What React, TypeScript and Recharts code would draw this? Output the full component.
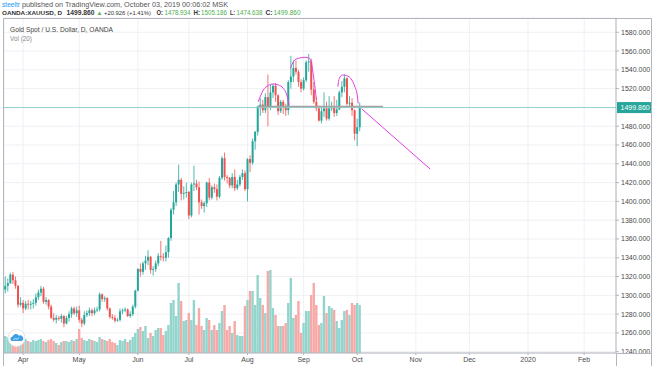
import React from 'react';
import { ComposedChart, Bar, Line, XAxis, YAxis, CartesianGrid, ReferenceLine, Cell } from 'recharts';

// Trading days from 2019-03-21 (index 0) to 2019-10-02 (index 139); axis runs to index 239
const MONTH_TICKS = [7, 29, 52, 72, 95, 117, 138, 161, 182, 205, 227];
const MONTH_LABELS = ['Apr', 'May', 'Jun', 'Jul', 'Aug', 'Sep', 'Oct', 'Nov', 'Dec', '2020', 'Feb'];
// 1500 is hidden under the last-price tag in the reference
const PRICE_TICKS = [1240, 1260, 1280, 1300, 1320, 1340, 1360, 1380, 1400, 1420, 1440, 1460, 1480, 1520, 1540, 1560, 1580];

const OPEN = [
  1306, 1310, 1313, 1322, 1316, 1310, 1290, 1292, 1286, 1291, 1290, 1291, 1292, 1298, 1303, 1307, 1293, 1295, 1288, 1276,
  1274, 1276, 1275, 1278, 1270, 1276, 1280, 1286, 1281, 1284, 1274, 1270, 1279, 1281, 1284, 1281, 1284, 1285, 1301, 1296,
  1297, 1286, 1277, 1276, 1273, 1274, 1283, 1284, 1285, 1278, 1280, 1288, 1305, 1328, 1325, 1334, 1337, 1341, 1327, 1328,
  1334, 1342, 1341, 1340, 1346, 1361, 1391, 1399, 1418, 1423, 1408, 1409, 1410, 1385, 1418, 1419, 1415, 1399, 1395, 1398,
  1420, 1404, 1415, 1413, 1405, 1425, 1446, 1426, 1425, 1417, 1426, 1414, 1418, 1426, 1430, 1413, 1445, 1441, 1464, 1474,
  1501, 1503, 1497, 1511, 1501, 1516, 1523, 1513, 1496, 1506, 1501, 1497, 1527, 1533, 1542, 1538, 1527, 1520, 1529, 1548,
  1549, 1519, 1506, 1499, 1486, 1496, 1499, 1488, 1499, 1501, 1494, 1498, 1516, 1522, 1531, 1504, 1505, 1497, 1472, 1478.934,
];
const HIGH = [
  1320, 1318, 1324, 1325, 1320, 1311, 1298, 1295, 1294, 1295, 1294, 1296, 1302, 1306, 1310, 1309, 1298, 1296, 1290, 1281,
  1279, 1278, 1280, 1279, 1278, 1283, 1288, 1288, 1288, 1289, 1276, 1283, 1284, 1287, 1286, 1287, 1288, 1303, 1302, 1299,
  1298, 1287, 1280, 1279, 1276, 1286, 1286, 1287, 1286, 1283, 1290, 1306, 1329, 1334, 1336, 1342, 1348, 1342, 1331, 1337,
  1345, 1358, 1345, 1353, 1362, 1393, 1411, 1420, 1439, 1425, 1416, 1420, 1411, 1420, 1438, 1423, 1421, 1402, 1400, 1421,
  1425, 1417, 1419, 1418, 1427, 1448, 1452, 1428, 1426, 1430, 1434, 1423, 1428, 1434, 1433, 1446, 1449, 1467, 1475, 1502,
  1510, 1508, 1515, 1535, 1524, 1525, 1526, 1514, 1508, 1508, 1504, 1529, 1555, 1550, 1550, 1540, 1530, 1532, 1550, 1557,
  1552, 1527, 1511, 1502, 1500, 1516, 1506, 1512, 1506, 1512, 1508, 1518, 1528, 1535, 1532, 1512, 1510, 1498, 1488, 1505.186,
];
const LOW = [
  1302, 1304, 1312, 1312, 1307, 1287, 1288, 1281, 1284, 1285, 1285, 1286, 1289, 1295, 1299, 1291, 1290, 1285, 1275, 1272,
  1270, 1273, 1271, 1266, 1269, 1272, 1276, 1279, 1277, 1271, 1266, 1268, 1277, 1278, 1278, 1279, 1282, 1283, 1293, 1293,
  1284, 1275, 1274, 1271, 1272, 1272, 1280, 1282, 1277, 1276, 1278, 1286, 1304, 1320, 1322, 1327, 1332, 1323, 1321, 1325,
  1331, 1337, 1336, 1336, 1340, 1358, 1386, 1395, 1410, 1401, 1402, 1404, 1381, 1383, 1411, 1412, 1386, 1392, 1388, 1394,
  1401, 1402, 1409, 1401, 1403, 1423, 1422, 1419, 1414, 1414, 1411, 1412, 1416, 1423, 1411, 1400, 1431, 1439, 1455, 1470,
  1491, 1494, 1494, 1480, 1497, 1510, 1506, 1492, 1494, 1493, 1491, 1492, 1520, 1527, 1535, 1522, 1516, 1518, 1527, 1538,
  1513, 1504, 1496, 1485, 1483, 1490, 1486, 1486, 1496, 1490, 1491, 1497, 1511, 1516, 1502, 1500, 1491, 1465, 1459, 1474.638,
];
const CLOSE = [
  1310, 1313, 1322, 1316, 1310, 1290, 1292, 1286, 1291, 1290, 1291, 1292, 1298, 1303, 1307, 1293, 1295, 1288, 1276, 1274,
  1276, 1275, 1278, 1270, 1276, 1280, 1286, 1281, 1284, 1274, 1270, 1279, 1281, 1284, 1281, 1284, 1285, 1301, 1296, 1297,
  1286, 1277, 1276, 1273, 1274, 1283, 1284, 1285, 1278, 1280, 1288, 1305, 1328, 1325, 1334, 1337, 1341, 1327, 1328, 1334,
  1342, 1341, 1340, 1346, 1361, 1391, 1399, 1418, 1423, 1408, 1409, 1410, 1385, 1418, 1419, 1415, 1399, 1395, 1398, 1420,
  1404, 1415, 1413, 1405, 1425, 1446, 1426, 1425, 1417, 1426, 1414, 1418, 1426, 1430, 1413, 1445, 1441, 1464, 1474, 1501,
  1503, 1497, 1511, 1501, 1516, 1523, 1513, 1496, 1506, 1501, 1497, 1527, 1533, 1542, 1538, 1527, 1520, 1529, 1548, 1549,
  1519, 1506, 1499, 1486, 1496, 1499, 1488, 1499, 1501, 1494, 1498, 1516, 1522, 1531, 1504, 1505, 1497, 1472, 1479, 1499.86,
];
const VOLUME = [
  17, 16, 14, 13, 15, 18, 13, 12, 14, 12, 11, 13, 12, 13, 14, 12, 11, 13, 14, 12,
  10, 8, 11, 12, 12, 11, 13, 12, 14, 24, 15, 13, 12, 14, 13, 12, 11, 16, 14, 13,
  12, 14, 11, 10, 8, 13, 12, 14, 11, 13, 16, 20, 24, 26, 22, 27, 15, 20, 17, 23,
  25, 25, 18, 22, 28, 50, 53, 37, 70, 52, 32, 33, 40, 33, 53, 28, 45, 27, 23, 35,
  33, 23, 28, 23, 30, 42, 48, 23, 27, 20, 32, 18, 17, 17, 47, 53, 62, 62, 48, 78,
  55, 48, 40, 82, 83, 45, 38, 27, 27, 27, 30, 50, 75, 35, 38, 52, 20, 30, 42, 42,
  58, 70, 48, 28, 30, 57, 40, 47, 45, 43, 32, 25, 33, 42, 43, 38, 50, 48, 50, 48,
];

// Drawing annotations (index, price)
const LEFT_SHOULDER = [
  { i: 99.2, p: 1506 }, { i: 101.2, p: 1518.6 }, { i: 103.1, p: 1523.2 }, { i: 105.1, p: 1525 },
  { i: 107.1, p: 1523.9 }, { i: 109.0, p: 1520.4 }, { i: 110.4, p: 1513.3 }, { i: 111.3, p: 1502.6 },
];
const HEAD = [
  { i: 111.9, p: 1541.7 }, { i: 113.0, p: 1548.7 }, { i: 114.9, p: 1552.3 }, { i: 117.5, p: 1553.4 },
  { i: 119.2, p: 1552.3 }, { i: 120.2, p: 1545.2 }, { i: 120.8, p: 1534.5 }, { i: 121.5, p: 1520.4 }, { i: 122.0, p: 1507.9 },
];
const RIGHT_SHOULDER = [
  { i: 130.4, p: 1522.1 }, { i: 131.0, p: 1531 }, { i: 132.3, p: 1534.5 }, { i: 133.9, p: 1533.8 },
  { i: 135.9, p: 1529.2 }, { i: 137.1, p: 1522.1 }, { i: 138.0, p: 1513.3 }, { i: 138.4, p: 1504.4 },
];
const NECKLINE = [{ i: 99.1, p: 1501 }, { i: 148.1, p: 1501 }];
const PROJECTION = [{ i: 139.8, p: 1498.4 }, { i: 166.6, p: 1434.5 }];
const LAST_PRICE = 1499.86;

const W = 654;
const H = 366;
const UP = '#26a69a';
const DOWN = '#ef5350';
const VUP = '#93d4cc';
const VDOWN = '#f7a9a7';
const MAGENTA = '#e23ee6';

const rows = CLOSE.map((c, i) => ({
  i,
  open: OPEN[i],
  high: HIGH[i],
  low: LOW[i],
  close: c,
  range: [LOW[i], HIGH[i]],
  vol: VOLUME[i],
}));

function Candle(props: any) {
  let { x, y, width, height } = props;
  const { payload } = props;
  if (height < 0) {
    y = y + height;
    height = -height;
  }
  const { open, high, low, close } = payload;
  const k = high - low > 0 ? height / (high - low) : 0;
  const yo = y + (high - open) * k;
  const yc = y + (high - close) * k;
  const col = close >= open ? UP : DOWN;
  const cx = x + width / 2;
  const top = Math.min(yo, yc);
  const bh = Math.max(Math.abs(yo - yc), 0.8);
  return (
    <g>
      <line x1={cx} x2={cx} y1={y} y2={y + height} stroke={col} strokeWidth={0.8} />
      <rect x={cx - 1} y={top} width={2} height={bh} fill={col} />
    </g>
  );
}

function PriceTag(props: any) {
  const vb = props.viewBox || {};
  const x = (vb.x || 0) + (vb.width || 0) + 1;
  const y = vb.y || 0;
  return (
    <g>
      <rect x={x} y={y - 5.5} width={34} height={11} fill="#26a69a" />
      <text x={x + 3.5} y={y + 2.5} fontSize={7} fill="#ffffff">
        {LAST_PRICE.toFixed(3)}
      </text>
    </g>
  );
}

export default function App() {
  const green = '#4caf50';
  const dark = '#333';
  const fit = 'spacingAndGlyphs';
  return (
    <div
      style={{
        position: 'absolute',
        left: 0,
        top: 0,
        width: W,
        height: H,
        background: '#fff',
        fontFamily: '"Liberation Sans", Arial, sans-serif',
        overflow: 'hidden',
      }}
    >
      <ComposedChart width={W} height={H} data={rows} margin={{ top: 18, right: 0, bottom: 0, left: 4 }}>
        <CartesianGrid xAxisId="p" yAxisId="p" stroke="#eef0f4" />
        <XAxis
          xAxisId="p"
          type="number"
          dataKey="i"
          domain={[-0.5, 239.5]}
          allowDataOverflow
          ticks={MONTH_TICKS}
          interval={0}
          tickFormatter={(v: number) => MONTH_LABELS[MONTH_TICKS.indexOf(v)]}
          height={13}
          tickSize={2}
          tick={{ fontSize: 7, fill: '#4a4a4a' }}
          tickLine={{ stroke: '#b2b5be' }}
          axisLine={{ stroke: '#b2b5be' }}
        />
        <XAxis xAxisId="v" type="number" dataKey="i" domain={[-0.5, 239.5]} allowDataOverflow hide />
        <YAxis
          yAxisId="p"
          orientation="right"
          domain={[1238.6, 1595.2]}
          allowDataOverflow
          ticks={PRICE_TICKS}
          interval={0}
          width={38}
          tickSize={3}
          tickFormatter={(v: number) => v.toFixed(3)}
          tick={{ fontSize: 7, fill: '#4a4a4a' }}
          tickLine={{ stroke: '#b2b5be' }}
          axisLine={{ stroke: '#b2b5be' }}
        />
        <YAxis yAxisId="v" hide domain={[0, 335]} allowDataOverflow />
        <Bar xAxisId="v" yAxisId="v" dataKey="vol" barSize={2.4} isAnimationActive={false}>
          {rows.map((r) => (
            <Cell key={r.i} fill={r.close >= r.open ? VUP : VDOWN} />
          ))}
        </Bar>
        <ReferenceLine xAxisId="p" yAxisId="p" y={LAST_PRICE} stroke="#8fd0c8" strokeWidth={1} label={<PriceTag />} />
        <Line xAxisId="p" yAxisId="p" data={NECKLINE} dataKey="p" stroke="#a3a3a3" strokeWidth={1.6} dot={false} isAnimationActive={false} />
        <Bar xAxisId="p" yAxisId="p" dataKey="range" barSize={2} shape={<Candle />} isAnimationActive={false} />
        <Line xAxisId="p" yAxisId="p" data={LEFT_SHOULDER} dataKey="p" type="monotone" stroke={MAGENTA} strokeWidth={1} dot={false} isAnimationActive={false} />
        <Line xAxisId="p" yAxisId="p" data={HEAD} dataKey="p" type="monotone" stroke={MAGENTA} strokeWidth={1} dot={false} isAnimationActive={false} />
        <Line xAxisId="p" yAxisId="p" data={RIGHT_SHOULDER} dataKey="p" type="monotone" stroke={MAGENTA} strokeWidth={1} dot={false} isAnimationActive={false} />
        <Line xAxisId="p" yAxisId="p" data={PROJECTION} dataKey="p" stroke={MAGENTA} strokeWidth={1} dot={false} isAnimationActive={false} />
      </ComposedChart>
      <svg width={W} height={H} style={{ position: 'absolute', left: 0, top: 0, pointerEvents: 'none' }}>
        <line x1={3.5} y1={18.5} x2={651.5} y2={18.5} stroke="#b2b5be" />
        <line x1={3.5} y1={18.5} x2={3.5} y2={366} stroke="#b2b5be" />
        <line x1={651.5} y1={18.5} x2={651.5} y2={366} stroke="#b2b5be" />
        <line x1={616.5} y1={353.5} x2={651.5} y2={353.5} stroke="#b2b5be" />
        <line x1={616.5} y1={353.5} x2={616.5} y2={366} stroke="#b2b5be" />
        <text x={2} y={6.5} fontSize={6.6} fill="#2196f3" textLength={18} lengthAdjust={fit}>steeltr</text>
        <text x={22} y={6.5} fontSize={6.6} fill="#555" textLength={206} lengthAdjust={fit}>
          published on TradingView.com, October 03, 2019 00:06:02 MSK
        </text>
        <g fontWeight="bold" fill={dark}>
          <text x={2} y={15} fontSize={6.2} textLength={60} lengthAdjust={fit}>OANDA:XAUUSD, D</text>
          <text x={66.5} y={15} fontSize={6.6} textLength={28} lengthAdjust={fit}>1499.860</text>
          <text x={96.5} y={15} fill={green} fontSize={6}>▲</text>
          <text x={104} y={15} fontSize={6} fontWeight="normal" textLength={47} lengthAdjust={fit}>+20.926 (+1.41%)</text>
          <text x={156.5} y={15} fontSize={6.6} textLength={6.5} lengthAdjust={fit}>O:</text>
          <text x={164.5} y={15} fontSize={6.6} fill={green} fontWeight="normal" textLength={26} lengthAdjust={fit}>1478.934</text>
          <text x={193.5} y={15} fontSize={6.6} textLength={6.5} lengthAdjust={fit}>H:</text>
          <text x={201} y={15} fontSize={6.6} fill={green} fontWeight="normal" textLength={26} lengthAdjust={fit}>1505.186</text>
          <text x={230} y={15} fontSize={6.6} textLength={5} lengthAdjust={fit}>L:</text>
          <text x={236.5} y={15} fontSize={6.6} fill={green} fontWeight="normal" textLength={26} lengthAdjust={fit}>1474.638</text>
          <text x={265.5} y={15} fontSize={6.6} textLength={7} lengthAdjust={fit}>C:</text>
          <text x={273.5} y={15} fontSize={6.6} fill={green} fontWeight="normal" textLength={27} lengthAdjust={fit}>1499.860</text>
        </g>
        <text x={10} y={31.5} fontSize={6.7} fill="#444" textLength={103} lengthAdjust={fit}>Gold Spot / U.S. Dollar, D, OANDA</text>
        <text x={10} y={40.5} fontSize={6.7} fill="#888" textLength={22} lengthAdjust={fit}>Vol (20)</text>
        <circle cx={16.5} cy={338} r={8.5} fill="#fff" stroke="#e3e3e3" />
        <path d="M11.5,341 a2.4,2.4 0 0 1 1.2,-4.4 a3.4,3.4 0 0 1 6.3,-0.8 a2.7,2.7 0 0 1 2.6,5.2 z" fill="#3ea0e4" />
        <path d="M13.5,340 l2,-2 l1.5,1.5 l2,-2" stroke="#fff" strokeWidth={0.8} fill="none" />
      </svg>
    </div>
  );
}
